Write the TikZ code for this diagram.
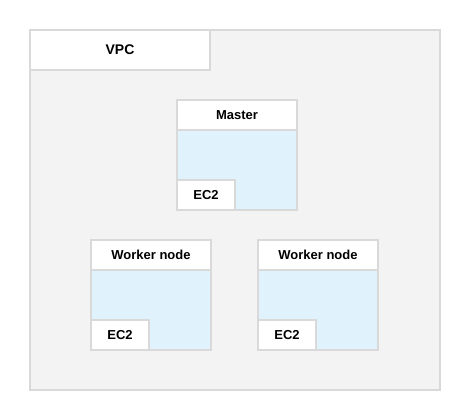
\documentclass[tikz,border=0pt]{standalone}
\usepackage{fontspec}
\setmainfont{Liberation Sans}
\definecolor{vpcfill}{HTML}{F3F3F3}
\definecolor{boxline}{HTML}{D9D9D9}
\definecolor{ecfill}{HTML}{E0F3FC}
\tikzset{
  boxlines/.style={draw=boxline, line width=1.4pt, inner sep=0pt, outer sep=0pt},
  vpcbox/.style={boxlines, fill=vpcfill, minimum width=410, minimum height=360},
  headbox/.style={boxlines, fill=white, font=\fontsize{13}{15}\selectfont\bfseries},
  vpchead/.style={headbox, minimum width=180, minimum height=40, font=\fontsize{14}{16}\selectfont\bfseries},
  nodehead/.style={headbox, minimum width=120, minimum height=30},
  nodebody/.style={boxlines, fill=ecfill, minimum width=120, minimum height=110},
  ectag/.style={headbox, minimum width=58, minimum height=30},
}
\begin{document}
\begin{tikzpicture}[x=1pt,y=-1pt]
\useasboundingbox (0,0) rectangle (462,412);
% VPC
\node[vpcbox] (vpc) at (235,210) {};
\node[vpchead] (vpctitle) at (120,50) {VPC};
% master
\node[nodebody] (master) at (237,155) {};
\node[nodehead] (mastertitle) at (237,115) {Master};
\node[ectag] (masterec) at (206,195) {EC2};
% workers
\foreach \nm/\cx in {workera/151, workerb/318} {
  \node[nodebody] (\nm) at (\cx,295) {};
  \node[nodehead] (\nm title) at (\cx,255) {Worker node};
  \node[ectag] (\nm ec) at (\cx-31,335) {EC2};
}
\end{tikzpicture}
\end{document}
